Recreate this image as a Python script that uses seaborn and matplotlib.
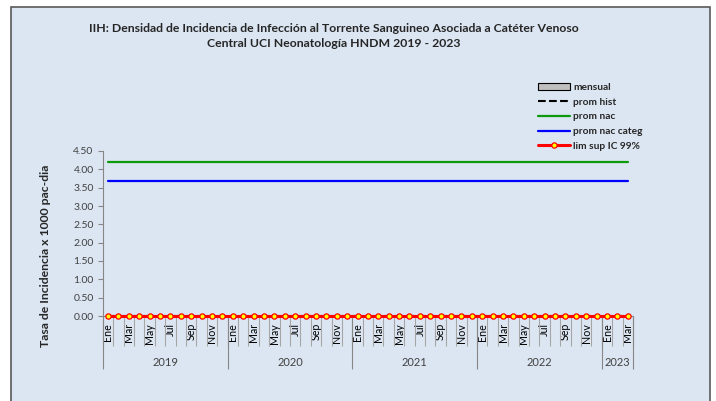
import matplotlib
matplotlib.use("Agg")
import matplotlib.pyplot as plt
from matplotlib.patches import Rectangle, Patch
from matplotlib.lines import Line2D
import seaborn as sns
import pandas as pd
import numpy as np

# meses y años del eje de categorías
month_names = ["Ene", "Feb", "Mar", "Abr", "May", "Jun",
               "Jul", "Ago", "Sep", "Oct", "Nov", "Dic"]
years = ["2019", "2020", "2021", "2022", "2023"]
months_per_year = [12, 12, 12, 12, 3]

# series (una fila por año)
mensual = [0.00, 0.00, 0.00, 0.00, 0.00, 0.00, 0.00, 0.00, 0.00, 0.00, 0.00, 0.00,
           0.00, 0.00, 0.00, 0.00, 0.00, 0.00, 0.00, 0.00, 0.00, 0.00, 0.00, 0.00,
           0.00, 0.00, 0.00, 0.00, 0.00, 0.00, 0.00, 0.00, 0.00, 0.00, 0.00, 0.00,
           0.00, 0.00, 0.00, 0.00, 0.00, 0.00, 0.00, 0.00, 0.00, 0.00, 0.00, 0.00,
           0.00, 0.00, 0.00]
prom_hist = [0.00, 0.00, 0.00, 0.00, 0.00, 0.00, 0.00, 0.00, 0.00, 0.00, 0.00, 0.00,
             0.00, 0.00, 0.00, 0.00, 0.00, 0.00, 0.00, 0.00, 0.00, 0.00, 0.00, 0.00,
             0.00, 0.00, 0.00, 0.00, 0.00, 0.00, 0.00, 0.00, 0.00, 0.00, 0.00, 0.00,
             0.00, 0.00, 0.00, 0.00, 0.00, 0.00, 0.00, 0.00, 0.00, 0.00, 0.00, 0.00,
             0.00, 0.00, 0.00]
prom_nac = [4.20, 4.20, 4.20, 4.20, 4.20, 4.20, 4.20, 4.20, 4.20, 4.20, 4.20, 4.20,
            4.20, 4.20, 4.20, 4.20, 4.20, 4.20, 4.20, 4.20, 4.20, 4.20, 4.20, 4.20,
            4.20, 4.20, 4.20, 4.20, 4.20, 4.20, 4.20, 4.20, 4.20, 4.20, 4.20, 4.20,
            4.20, 4.20, 4.20, 4.20, 4.20, 4.20, 4.20, 4.20, 4.20, 4.20, 4.20, 4.20,
            4.20, 4.20, 4.20]
prom_nac_categ = [3.69, 3.69, 3.69, 3.69, 3.69, 3.69, 3.69, 3.69, 3.69, 3.69, 3.69, 3.69,
                  3.69, 3.69, 3.69, 3.69, 3.69, 3.69, 3.69, 3.69, 3.69, 3.69, 3.69, 3.69,
                  3.69, 3.69, 3.69, 3.69, 3.69, 3.69, 3.69, 3.69, 3.69, 3.69, 3.69, 3.69,
                  3.69, 3.69, 3.69, 3.69, 3.69, 3.69, 3.69, 3.69, 3.69, 3.69, 3.69, 3.69,
                  3.69, 3.69, 3.69]
lim_sup = [0.00, 0.00, 0.00, 0.00, 0.00, 0.00, 0.00, 0.00, 0.00, 0.00, 0.00, 0.00,
           0.00, 0.00, 0.00, 0.00, 0.00, 0.00, 0.00, 0.00, 0.00, 0.00, 0.00, 0.00,
           0.00, 0.00, 0.00, 0.00, 0.00, 0.00, 0.00, 0.00, 0.00, 0.00, 0.00, 0.00,
           0.00, 0.00, 0.00, 0.00, 0.00, 0.00, 0.00, 0.00, 0.00, 0.00, 0.00, 0.00,
           0.00, 0.00, 0.00]

title = ("IIH: Densidad de Incidencia de Infección al Torrente Sanguineo Asociada a Catéter Venoso\n"
         "Central UCI Neonatología HNDM 2019 - 2023")
ylabel = "Tasa de Incidencia x 1000 pac-dia"

if __name__ == "__main__":
    sns.set_style("white")
    plt.rcParams["font.family"] = ["Lato", "DejaVu Sans"]

    mes, anio = [], []
    for y, k in zip(years, months_per_year):
        mes += month_names[:k]
        anio += [y] * k
    n = len(mes)
    df = pd.DataFrame({"pos": np.arange(n), "mes": mes, "anio": anio,
                       "mensual": mensual, "prom_hist": prom_hist,
                       "prom_nac": prom_nac, "prom_nac_categ": prom_nac_categ,
                       "lim_sup": lim_sup})

    bg = "#dce6f2"
    fig = plt.figure(figsize=(7.16, 4.01), dpi=100, facecolor="white")
    fig.patches.append(Rectangle((11 / 716, -0.02), 699 / 716, 1.02 - 7 / 401,
                                 transform=fig.transFigure, facecolor=bg,
                                 edgecolor="#595959", linewidth=1.2, zorder=-10))
    ax = fig.add_axes([102.8 / 716, 85 / 401, 530.2 / 716, 165 / 401])
    ax.set_facecolor(bg)

    sns.barplot(data=df, x="pos", y="mensual", color="#bfbfbf", edgecolor="black",
                linewidth=0.8, ax=ax, order=list(df["pos"]))
    sns.lineplot(data=df, x="pos", y="prom_hist", color="black", linewidth=1.5,
                 linestyle="--", ax=ax)
    sns.lineplot(data=df, x="pos", y="prom_nac", color="#0c9a0c", linewidth=1.6, ax=ax)
    sns.lineplot(data=df, x="pos", y="prom_nac_categ", color="#0000ff", linewidth=1.6, ax=ax)
    sns.lineplot(data=df, x="pos", y="lim_sup", color="red", linewidth=2.2, marker="o",
                 markersize=3.8, markerfacecolor="yellow", markeredgecolor="red",
                 markeredgewidth=0.9, clip_on=False, zorder=5, ax=ax)

    ax.set_xlim(-0.5, n - 0.5)
    ax.set_ylim(0, 4.5)
    ax.set_yticks(np.arange(0, 4.51, 0.5))
    ax.set_yticklabels([f"{v:.2f}" for v in np.arange(0, 4.51, 0.5)])
    ax.tick_params(axis="y", length=3.6, width=0.8, color="#868686", pad=3,
                   labelsize=7.5, labelcolor="#404040", left=True)

    lab_pos = [i for i in range(n) if month_names.index(mes[i]) % 2 == 0]
    ax.set_xticks(lab_pos)
    ax.set_xticklabels([mes[i] for i in lab_pos], rotation=90)
    ax.set_xticks(np.arange(-0.5, n, 1), minor=True)
    ax.tick_params(axis="x", which="major", length=0, pad=5, labelsize=7.7,
                   labelcolor="black")
    ax.tick_params(axis="x", which="minor", length=21.6, width=0.8, color="#a6a6a6",
                   bottom=True)
    ax.set_xlabel("")
    ax.set_ylabel("")

    for s in ["top", "right"]:
        ax.spines[s].set_visible(False)
    for s in ["left", "bottom"]:
        ax.spines[s].set_color("#868686")
        ax.spines[s].set_linewidth(0.8)

    # separadores y etiquetas de año
    bounds = np.cumsum([0] + months_per_year) - 0.5
    ax.vlines(bounds, -0.321, 0, transform=ax.get_xaxis_transform(), color="#868686",
              linewidth=0.8, clip_on=False)
    for y, a, b in zip(years, bounds[:-1], bounds[1:]):
        ax.text((a + b) / 2, -0.28, y, transform=ax.get_xaxis_transform(),
                ha="center", va="center", fontsize=8, color="#404040")

    fig.text(334 / 716, 1 - 36 / 401, title, ha="center", va="center",
             fontsize=8.8, fontweight="bold", linespacing=1.45)
    fig.text(46 / 716, 1 - 256 / 401, ylabel, ha="center", va="center",
             rotation=90, fontsize=8.8, fontweight="bold")

    handles = [Patch(facecolor="#bfbfbf", edgecolor="black", linewidth=0.8),
               Line2D([], [], color="black", linestyle="--", linewidth=1.5),
               Line2D([], [], color="#0c9a0c", linewidth=1.6),
               Line2D([], [], color="#0000ff", linewidth=1.6),
               Line2D([], [], color="red", linewidth=2.2, marker="o", markersize=3.8,
                      markerfacecolor="yellow", markeredgecolor="red",
                      markeredgewidth=0.9)]
    labels = ["mensual", "prom hist", "prom nac", "prom nac categ", "lim sup IC 99%"]
    fig.legend(handles, labels, loc="upper left",
               bbox_to_anchor=(538 / 716, 1 - 83 / 401), frameon=False,
               prop={"size": 7.3, "weight": "bold"}, handlelength=3.2,
               handletextpad=0.3, labelspacing=0.55, borderpad=0, borderaxespad=0)

    fig.savefig("out.png", dpi=100, facecolor="white")
